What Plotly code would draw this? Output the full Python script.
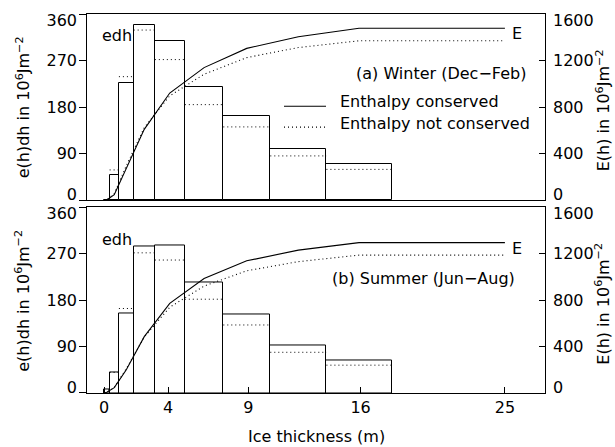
import numpy as np
import plotly.graph_objects as go

# ---------------- data ----------------
edges = [0.0, 0.35, 0.93, 1.85, 3.17, 5.04, 7.44, 10.37, 13.87, 17.94]   # ice thickness bin edges (m)

# (a) Winter (Dec-Feb): e(h)dh per bin, 10^6 J m^-2
winter_cons = [0, 49, 226, 338, 308, 220, 163, 100, 70]
winter_noncons = [0, 59, 239, 329, 272, 185, 142, 86, 60]
# (b) Summer (Jun-Aug)
summer_cons = [6, 40, 155, 285, 287, 214, 153, 92, 63]
summer_noncons = [6, 40, 164, 272, 258, 182, 132, 79, 54]

# cumulative E(h) curves (10^6 J m^-2), read at these thicknesses
curve_h = [0.0, 0.175, 0.64, 1.39, 2.51, 4.10, 6.24, 8.90, 12.12, 15.90, 25.0]
winter_E_cons = [0, 5, 50, 272, 610, 922, 1140, 1305, 1405, 1478, 1478]
winter_E_noncons = [0, 5, 59, 297, 625, 898, 1083, 1226, 1312, 1370, 1370]
summer_E_cons = [0, 6, 46, 201, 486, 773, 987, 1140, 1232, 1297, 1297]
summer_E_noncons = [0, 6, 46, 210, 482, 740, 922, 1054, 1133, 1189, 1189]

x_ticks = [0, 4, 9, 16, 25]
left_ticks = [0, 90, 180, 270, 360]
right_ticks = [0, 400, 800, 1200, 1600]

FONT = "DejaVu Sans"
FS = 16
DOT = "1px,3px"

e = np.array(edges)
centers = (e[:-1] + e[1:]) / 2
widths = e[1:] - e[:-1]


def dotted_tops(vals):
    xs, ys = [], []
    for l, r, v in zip(e[:-1], e[1:], vals):
        xs += [l, r, None]
        ys += [v, v, None]
    return xs, ys


fig = go.Figure()

panels = [
    # (bar cons, bar noncons, E cons, E noncons, x axis, y left, y right)
    (winter_cons, winter_noncons, winter_E_cons, winter_E_noncons, "x2", "y2", "y4"),
    (summer_cons, summer_noncons, summer_E_cons, summer_E_noncons, "x", "y", "y3"),
]

for bc, bn, ec, en, xa, yl, yr in panels:
    fig.add_trace(go.Bar(
        x=centers, y=bc, width=widths, xaxis=xa, yaxis=yl,
        marker=dict(color="rgba(255,255,255,0)", line=dict(color="black", width=1)),
        showlegend=False, hoverinfo="skip"))
    dx, dy = dotted_tops(bn)
    fig.add_trace(go.Scatter(
        x=dx, y=dy, mode="lines", xaxis=xa, yaxis=yl,
        line=dict(color="black", width=1, dash=DOT), showlegend=False))
    fig.add_trace(go.Scatter(
        x=curve_h, y=ec, mode="lines", xaxis=xa, yaxis=yr, name="Enthalpy conserved",
        line=dict(color="black", width=1.1), showlegend=False))
    fig.add_trace(go.Scatter(
        x=curve_h, y=en, mode="lines", xaxis=xa, yaxis=yr, name="Enthalpy not conserved",
        line=dict(color="black", width=1.1, dash=DOT), showlegend=False))

tickfont = dict(family=FONT, size=FS, color="black")
ax_common = dict(showline=True, linecolor="black", linewidth=1, showgrid=False,
                 zeroline=False, tickfont=tickfont)

XR = [-1.06, 27.5]
BOT = [0, 0.4895]
TOP = [0.508, 1.0]
R_STANDOFF = 7
L_STANDOFF = 9

layout = dict(
    width=615, height=447,
    margin=dict(l=87, r=70, t=11, b=54),
    paper_bgcolor="white", plot_bgcolor="white",
    bargap=0, barmode="overlay",
    font=dict(family=FONT, size=FS, color="black"),
    xaxis=dict(**ax_common, domain=[0, 1], anchor="y", range=XR, tickvals=x_ticks,
               ticks="inside", ticklen=6, tickcolor="black", mirror=True),
    xaxis2=dict(**ax_common, domain=[0, 1], anchor="y2", range=XR, tickvals=x_ticks,
                ticks="", showticklabels=False, mirror=True),
    # main y axes: frame line and tick marks (labels come from the label axes below)
    yaxis=dict(**ax_common, domain=BOT, anchor="x", range=[0, 360], tickvals=left_ticks,
               showticklabels=False, ticks="outside", ticklen=7, tickcolor="black"),
    yaxis2=dict(**ax_common, domain=TOP, anchor="x2", range=[0, 360], tickvals=left_ticks,
                showticklabels=False, ticks="outside", ticklen=7, tickcolor="black"),
    yaxis3=dict(**ax_common, overlaying="y", side="right", anchor="x", range=[0, 1600],
                tickvals=right_ticks, showticklabels=False,
                ticks="inside", ticklen=6, tickcolor="black"),
    yaxis4=dict(**ax_common, overlaying="y2", side="right", anchor="x2", range=[0, 1600],
                tickvals=right_ticks, showticklabels=False,
                ticks="inside", ticklen=6, tickcolor="black"),
)

# label-only axes: end labels nudged just inside the frame (as in the reference)
n = 5
for base, xa, side, ticks, rng in [
    ("y", "x", "left", left_ticks, [0, 360]),
    ("y2", "x2", "left", left_ticks, [0, 360]),
    ("y", "x", "right", right_ticks, [0, 1600]),
    ("y2", "x2", "right", right_ticks, [0, 1600]),
]:
    for vals, shift in [(ticks[:1], -6), (ticks[1:-1], 0), (ticks[-1:], 6)]:
        d = dict(overlaying=base, anchor=xa, side=side, range=rng, tickvals=vals,
                 ticktext=[str(v) for v in vals], showline=False, showgrid=False,
                 zeroline=False, ticks="", tickfont=tickfont, ticklabelshift=shift,
                 ticklabelstandoff=(L_STANDOFF if side == "left" else R_STANDOFF))
        layout["yaxis%d" % n] = d
        # an invisible trace so that plotly draws this label axis
        fig.add_trace(go.Scatter(x=[XR[0]], y=[rng[0]], xaxis=xa, yaxis="y%d" % n,
                                 mode="markers", marker=dict(opacity=0, size=1),
                                 showlegend=False, hoverinfo="skip"))
        n += 1

fig.update_layout(**layout)


def px_x(p):
    return (p - 87) / 458


def px_y(p):
    return (393 - p) / 382


ann = []


def add_text(text, x, y, xanchor="center", angle=0):
    ann.append(dict(text=text, x=px_x(x), y=px_y(y), xref="paper", yref="paper",
                    showarrow=False, xanchor=xanchor, yanchor="middle", textangle=angle,
                    font=dict(family=FONT, size=FS, color="black")))


add_text("edh", 117, 33)
add_text("edh", 117, 238)
add_text("E", 517, 31)
add_text("E", 517, 247)
add_text("(a) Winter (Dec−Feb)", 441, 71)
add_text("(b) Summer (Jun−Aug)", 423, 278)
add_text("Enthalpy conserved", 338, 99, xanchor="left")
add_text("Enthalpy not conserved", 338, 121, xanchor="left")
ytitle_l = "e(h)dh in 10<sup>6</sup>Jm<sup>−2</sup>"
ytitle_r = "E(h) in 10<sup>6</sup>Jm<sup>−2</sup>"
add_text(ytitle_l, 23, 105, angle=-90)
add_text(ytitle_l, 23, 300, angle=-90)
add_text(ytitle_r, 603, 108, angle=-90)
add_text(ytitle_r, 603, 303, angle=-90)
add_text("Ice thickness (m)", 316, 437)

fig.update_layout(annotations=ann)

# legend line samples
fig.add_shape(type="line", xref="paper", yref="paper",
              x0=px_x(284), x1=px_x(326), y0=px_y(104), y1=px_y(104),
              line=dict(color="black", width=1.1))
fig.add_shape(type="line", xref="paper", yref="paper",
              x0=px_x(284), x1=px_x(326), y0=px_y(125), y1=px_y(125),
              line=dict(color="black", width=1.1, dash=DOT))

fig.write_html("out.html")
